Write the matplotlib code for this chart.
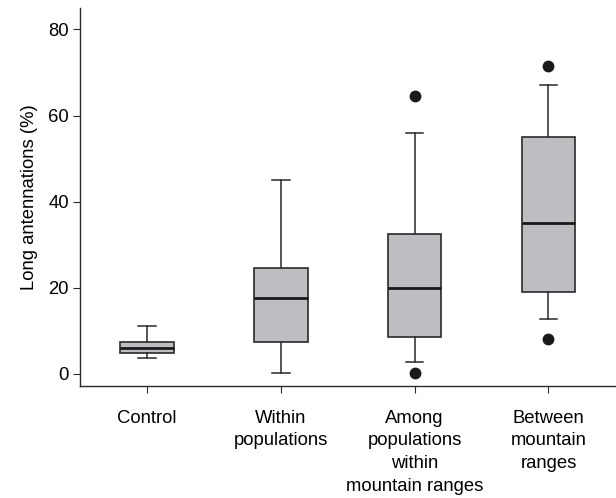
import matplotlib
matplotlib.use("Agg")
import matplotlib.pyplot as plt

plt.rcParams["font.family"] = ["Liberation Sans", "DejaVu Sans"]

categories = ["Control", "Within\npopulations", "Among\npopulations\nwithin\nmountain ranges", "Between\nmountain\nranges"]
whisker_low = [3.7, 0.1, 2.7, 12.7]
q1 = [4.9, 7.4, 8.6, 19.0]
median = [6.0, 17.7, 20.0, 35.1]
q3 = [7.4, 24.6, 32.5, 55.0]
whisker_high = [11.2, 45.1, 56.0, 67.0]
outliers = [[], [], [0.1, 64.6], [8.0, 71.6]]
yticks = [0, 20, 40, 60, 80]

stats = []
for i, c in enumerate(categories):
    stats.append(dict(label=c, whislo=whisker_low[i], q1=q1[i], med=median[i],
                      q3=q3[i], whishi=whisker_high[i], fliers=outliers[i]))

fig = plt.figure(figsize=(6.16, 4.98), dpi=100)
ax = fig.add_axes([0.13, 0.225, 0.869, 0.759])
edge = "#2a2a2a"
ax.bxp(stats, positions=range(len(categories)), widths=0.4, patch_artist=True,
       boxprops=dict(facecolor="#bdbec2", edgecolor=edge, linewidth=1.2),
       medianprops=dict(color="#1a1a1a", linewidth=2.0),
       whiskerprops=dict(color=edge, linewidth=1.1),
       capprops=dict(color=edge, linewidth=1.1),
       capwidths=0.13,
       flierprops=dict(marker="o", markerfacecolor="#1a1a1a", markeredgecolor="#1a1a1a", markersize=7.5))
ax.set_xlim(-0.5, 3.5)
ax.set_ylim(-2.8, 85)
ax.set_yticks(yticks)
ax.set_xticks(range(len(categories)))
ax.set_xticklabels(categories, fontsize=13.3, linespacing=1.44)
ax.tick_params(axis="y", labelsize=13.3, length=5, color=edge, pad=3)
ax.tick_params(axis="x", length=5, color=edge, pad=12)
ax.set_ylabel("Long antennations (%)", fontsize=13.3, labelpad=7)
ax.spines["top"].set_visible(False)
ax.spines["right"].set_visible(False)
for s in ("left", "bottom"):
    ax.spines[s].set_color(edge)
    ax.spines[s].set_linewidth(1.0)
fig.savefig("out.png", dpi=100)
